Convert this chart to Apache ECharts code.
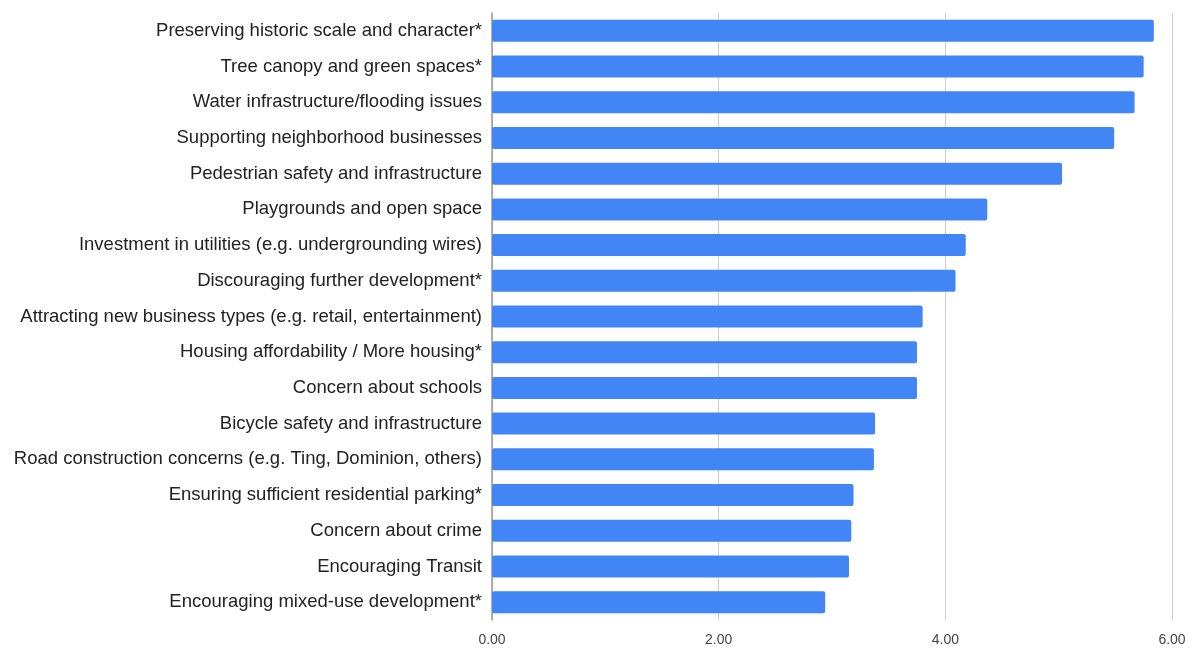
<!DOCTYPE html>
<html>
<head>
<meta charset="utf-8">
<script src="https://cdn.jsdelivr.net/npm/echarts@6/dist/echarts.min.js"></script>
<style>html,body{margin:0;padding:0;background:#fff}#c{width:1196px;height:652px}</style>
</head>
<body>
<div id="c"></div>
<script>
const categories = [
  "Preserving historic scale and character*",
  "Tree canopy and green spaces*",
  "Water infrastructure/flooding issues",
  "Supporting neighborhood businesses",
  "Pedestrian safety and infrastructure",
  "Playgrounds and open space",
  "Investment in utilities (e.g. undergrounding wires)",
  "Discouraging further development*",
  "Attracting new business types (e.g. retail, entertainment)",
  "Housing affordability / More housing*",
  "Concern about schools",
  "Bicycle safety and infrastructure",
  "Road construction concerns (e.g. Ting, Dominion, others)",
  "Ensuring sufficient residential parking*",
  "Concern about crime",
  "Encouraging Transit",
  "Encouraging mixed-use development*"
];
const values = [5.84, 5.75, 5.67, 5.49, 5.03, 4.37, 4.18, 4.09, 3.80, 3.75, 3.75, 3.38, 3.37, 3.19, 3.17, 3.15, 2.94];
const xTicks = [0, 2, 4, 6];

const chart = echarts.init(document.getElementById('c'));
chart.setOption({
  animation: false,
  grid: { left: 492, right: 24, top: 13, bottom: 32, containLabel: false },
  xAxis: {
    type: 'value', min: 0, max: 6, interval: 2,
    axisLine: { show: false },
    axisTick: { show: false },
    splitLine: { lineStyle: { color: '#cccccc', width: 1 } },
    axisLabel: {
      color: '#444', fontSize: 14, fontFamily: 'Liberation Sans, Arial, sans-serif', margin: 13,
      formatter: v => xTicks.includes(v) ? v.toFixed(2) : ''
    }
  },
  yAxis: {
    type: 'category', data: categories, inverse: true,
    axisLine: { show: true, lineStyle: { color: '#999', width: 1.5 } },
    axisTick: { show: false },
    axisLabel: { color: '#222', fontSize: 18.5, fontFamily: 'Liberation Sans, Arial, sans-serif', margin: 10 }
  },
  series: [{
    type: 'bar', data: values, barWidth: 22,
    itemStyle: { color: '#4285f4', borderRadius: 2 }
  }]
});
</script>
</body>
</html>
